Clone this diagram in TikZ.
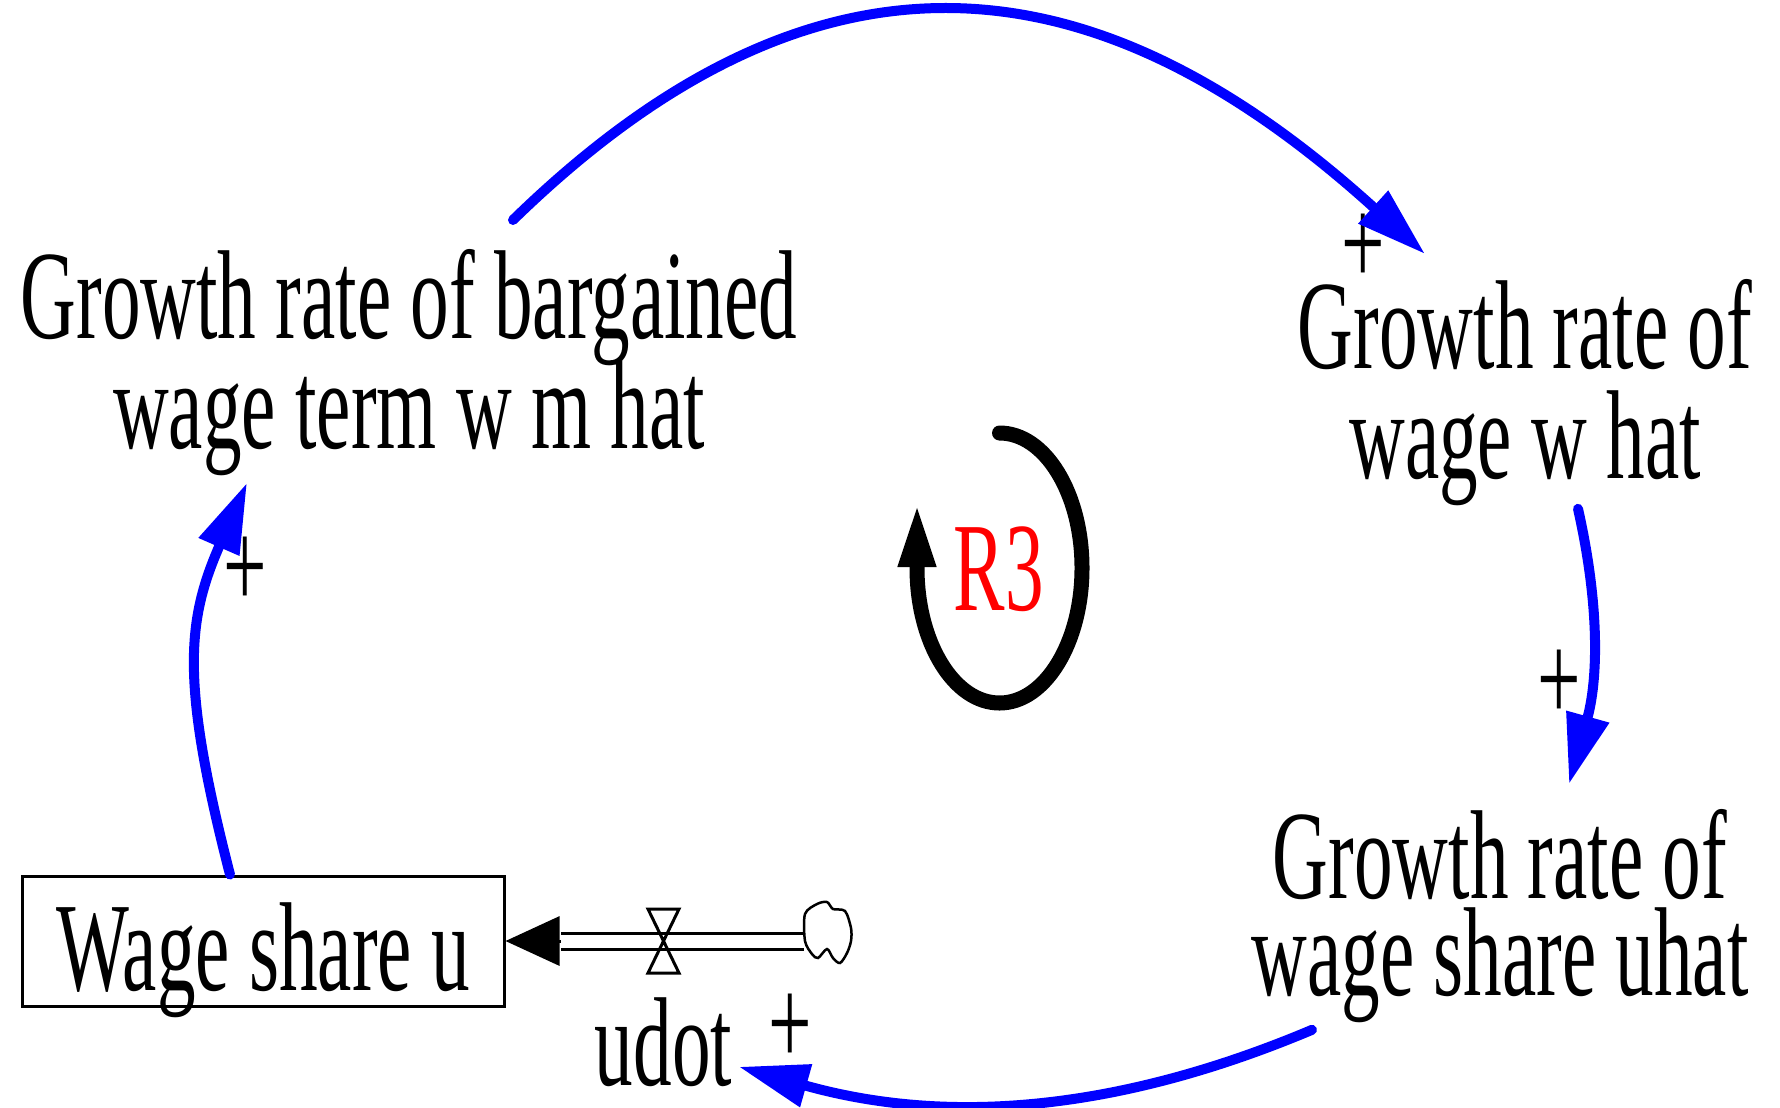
\documentclass[tikz,border=0pt]{standalone}
\usepackage{fontspec}
\newfontfamily\vfont[FakeStretch=0.61]{Liberation Serif}
\usepackage{tikz}
\usetikzlibrary{arrows.meta}
\newcommand{\tightlines}{\lineskiplimit -100pt\relax}

\begin{document}
\begin{tikzpicture}[
      x=0.1mm, y=0.1mm,
      var/.style={inner sep=0pt, align=center,
                  font=\vfont\fontsize{36pt}{31.3pt}\selectfont\tightlines},
      stock/.style={draw, line width=0.3mm, inner sep=0pt,
                    minimum width=48.2mm, minimum height=13mm,
                    text height=9.8mm, text depth=0pt,
                    font=\vfont\fontsize{36pt}{31.3pt}\selectfont},
      link/.style={draw=blue, line width=1mm, line cap=round,
                   -{Triangle[length=7mm, width=4.2mm]}},
      pipe/.style={line width=0.3mm, double distance=1.3mm},
      flowtip/.style={line width=0.3mm, -{Triangle[length=5.4mm, width=4.9mm]}},
      loopline/.style={line width=1.5mm, line cap=round,
                       -{Triangle[length=6.5mm, width=3.4mm]}},
    ]
    \useasboundingbox (0,0) rectangle (1780,-1107);

    \node[var, anchor=north] (wmhat) at (409,-249) {Growth rate of bargained\\wage term w m hat};
    \node[var, anchor=north] (what) at (1525,-279) {Growth rate of\\wage w hat};
    \node[var, anchor=north, font=\vfont\fontsize{36pt}{27.6pt}\selectfont\tightlines]
         (uhat) at (1500,-809) {Growth rate of\\wage share uhat};
    \node[stock] (wsu) at (263,-941) {Wage share u};

    \coordinate (valve) at (663.5,-941);
    \coordinate (cloud) at (828,-941);
    \node[var, anchor=base] (udot) at ([shift={(0,-144)}]valve) {udot};

    \node[var, text=red] (r3) at (999,-569) {R3};

    % polarity signs
    \node[var] (s-what)  at (1363,-250) {+};
    \node[var] (s-wmhat) at (245,-573)  {+};
    \node[var] (s-uhat)  at (1559,-686) {+};
    \node[var] (s-udot)  at (790,-1030) {+};

    \draw[link] ([shift={(104,29)}]wmhat.north) .. controls +(312,304) and +(-321,291) .. ([shift={(-100,25)}]what.north);
    \draw[link] ([shift={(53,-2)}]what.south) .. controls +(22,-98) and +(29,104) .. ([shift={(69,25)}]uhat.north);
    \draw[link] ([shift={(-188,-6)}]uhat.south) .. controls +(-166,-70) and +(230,-65) .. ([shift={(6,-25)}]udot.east);
    \draw[link] ([shift={(-33,0)}]wsu.north) .. controls +(-50,194) and +(-60,-137) .. ([shift={(-162,-6)}]wmhat.south);

    % flow into the stock
    \draw[pipe] ([shift={(-24,0)}]cloud) -- (valve) -- ([shift={(55,0)}]wsu.east);
    \draw[flowtip] ([shift={(55,0)}]wsu.east) -- (wsu.east);
    \draw[line width=0.3mm] ([shift={(-15.5,32)}]valve) -- ++(31,0)
         -- ([shift={(-15.5,-32)}]valve) -- ++(31,0) -- cycle;
    \draw[line width=0.25mm, shift={(cloud)}] plot[smooth cycle, tension=0.5] coordinates {
         (-23,27) (-11,37) (-1,39) (5,32) (17,30) (23,13) (23,0) (19,-12)
         (12,-22) (5,-17) (-1,-8) (-10,-17) (-16,-13) (-23,0)};

    \draw[loopline] ([shift={(0.5,136)}]r3.center)
         arc[start angle=90, end angle=-180, x radius=82.5, y radius=135] -- ++(0,66);
  \end{tikzpicture}
\end{document}
